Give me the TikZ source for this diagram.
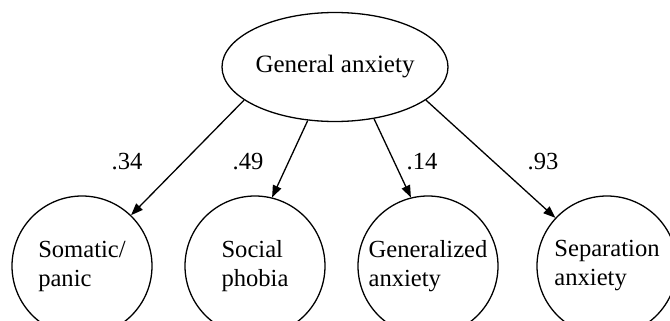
\documentclass[tikz,border=0pt]{standalone}
\usepackage{fontspec}
\setmainfont{Liberation Serif}
\usetikzlibrary{shapes.geometric, positioning, arrows.meta}

\begin{document}
\begin{tikzpicture}[x=0.5pt, y=-0.5pt, node distance = 86.5pt, line width=0.65pt,
        >={Triangle[length=6pt, width=4.5pt]},
        factor/.style={draw, circle, minimum size=70pt, inner sep=0pt, align=left,
                font=\fontsize{12.3}{14.5}\selectfont},
        general/.style={draw, ellipse, minimum width=113pt, minimum height=54.5pt,
                inner sep=0pt, font=\fontsize{12.5}{14}\selectfont},
        loading/.style={font=\fontsize{12.3}{14}\selectfont}]
        \useasboundingbox (0,0) rectangle (670,321);

        \node[general] (ga) at (335,67) {General anxiety};
        \node[factor] (som) at (82,266) {Somatic/\\panic};
        \node[factor, right of=som] (soc) {Social\\phobia};
        \node[factor, right of=soc] (gen) {Generalized\\anxiety};
        \node[factor, right of=gen, xshift=3pt] (sep) {Separation\\anxiety};

        \node[loading] (l1) at (127,162) {.34};
        \node[loading] (l2) at (248,162) {.49};
        \node[loading] (l3) at (422,162) {.14};
        \node[loading] (l4) at (543,162) {.93};

        \draw[->] (ga.200) -- (som.46);
        \draw[->] (ga.243) -- (soc.76);
        \draw[->] (ga.307) -- (gen.104);
        \draw[->] (ga.340) -- (sep.137);
      \end{tikzpicture}
\end{document}
